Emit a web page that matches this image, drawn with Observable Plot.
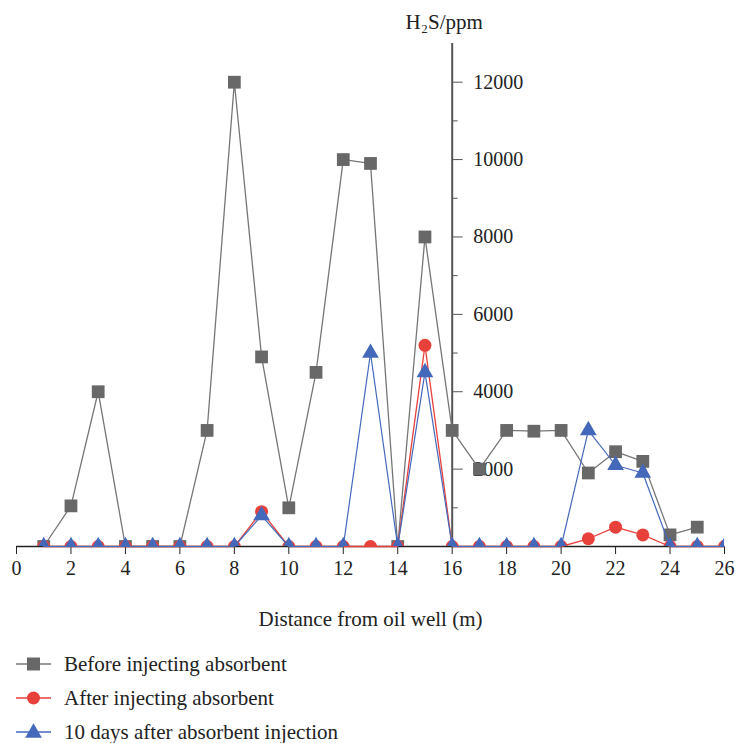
<!DOCTYPE html>
<html><head><meta charset="utf-8">
<script src="https://cdn.jsdelivr.net/npm/d3@7"></script>
<script src="https://cdn.jsdelivr.net/npm/@observablehq/plot@0.6"></script>
<style>
body{margin:0;background:#fff;font-family:"Liberation Serif","DejaVu Serif",serif;}
#legend{margin-top:7px;margin-left:16px;font-size:21px;color:#222}
.row{height:34px;display:flex;align-items:center}
.row svg{margin-right:12px}
</style></head><body>
<div id="chart"></div>
<div id="legend"></div>
<script>
const distanceBefore = [1,2,3,4,5,6,7,8,9,10,11,12,13,14,15,16,17,18,19,20,21,22,23,24,25];
const before = [0,1050,4000,0,0,0,3000,12000,4900,1000,4500,10000,9900,0,8000,3000,2000,3000,2980,3000,1900,2450,2200,300,500];
const distance = [1,2,3,4,5,6,7,8,9,10,11,12,13,14,15,16,17,18,19,20,21,22,23,24,25,26];
const after = [0,0,0,0,0,0,0,0,900,0,0,0,0,0,5200,0,0,0,0,0,200,500,300,0,0,0];
const tenDays = [0,0,0,0,0,0,0,0,800,0,0,0,5000,0,4500,0,0,0,0,0,3000,2100,1900,0,0,0];
const seriesNames = ["Before injecting absorbent","After injecting absorbent","10 days after absorbent injection"];
const xTicks = [0,2,4,6,8,10,12,14,16,18,20,22,24,26];
const yTicks = [2000,4000,6000,8000,10000,12000];
const yMinor = [1000,3000,5000,7000,9000,11000];
const yAxisAt = 16;

const gray = "#686868", grayLine = "#767676", red = "#e8413c", blue = "#4469bb";

const dBefore = distanceBefore.map((x,i)=>({x, y: before[i]}));
const dAfter = distance.map((x,i)=>({x, y: after[i]}));
const dTen = distance.map((x,i)=>({x, y: tenDays[i]}));

const plot = Plot.plot({
  width: 735, height: 640,
  marginLeft: 16, marginRight: 11, marginTop: 43, marginBottom: 94,
  style: {fontFamily: "'Liberation Serif','DejaVu Serif',serif", fontSize: "20px", color: "#222", background: "#fff"},
  x: {domain: [0, 26], axis: null},
  y: {domain: [0, 13000], axis: null},
  marks: [
    Plot.ruleY([0], {stroke: "#222", strokeWidth: 1.3}),
    Plot.ruleX([yAxisAt], {y1: 0, y2: 13000, stroke: "#555", strokeWidth: 2}),
    Plot.axisX({ticks: xTicks, tickSize: 8, tickPadding: 6, tickFormat: d => String(d), fontSize: 20, stroke: "#222", fill: "#222", label: null}),
    Plot.axisY({x: yAxisAt, anchor: "right", ticks: yTicks, tickSize: 10, tickPadding: 11, tickFormat: d => String(d), fontSize: 20, stroke: "#555", fill: "#222", label: null}),
    Plot.axisY({x: yAxisAt, anchor: "right", ticks: yMinor, tickSize: 5, tickFormat: () => "", stroke: "#555", label: null}),
    Plot.text(["H₂S/ppm"], {x: yAxisAt, frameAnchor: "top", lineAnchor: "middle", dy: -21, dx: -8, fontSize: 21, fill: "#222"}),
    Plot.text(["Distance from oil well (m)"], {frameAnchor: "bottom", lineAnchor: "middle", dy: 73, fontSize: 21, fill: "#222"}),
    Plot.line(dBefore, {x: "x", y: "y", stroke: grayLine, strokeWidth: 1.3}),
    Plot.dot(dBefore, {x: "x", y: "y", symbol: "square", r: 7.2, fill: gray, stroke: "none", clip: true}),
    Plot.line(dAfter, {x: "x", y: "y", stroke: red, strokeWidth: 1.3}),
    Plot.dot(dAfter, {x: "x", y: "y", symbol: "circle", r: 6.5, fill: red, stroke: "none", clip: true}),
    Plot.line(dTen, {x: "x", y: "y", stroke: blue, strokeWidth: 1.2}),
    Plot.dot(dTen, {x: "x", y: "y", symbol: "triangle", r: 6.2, fill: blue, stroke: "none", clip: true})
  ]
});
document.getElementById("chart").append(plot);

const legendStyles = [
  {line: grayLine, fill: gray, shape: "square"},
  {line: red, fill: red, shape: "circle"},
  {line: blue, fill: blue, shape: "triangle"}
];
const legend = d3.select("#legend");
seriesNames.forEach((name, i) => {
  const s = legendStyles[i];
  const row = legend.append("div").attr("class", "row");
  const svg = row.append("svg").attr("width", 36).attr("height", 18);
  svg.append("line").attr("x1", 0).attr("x2", 35).attr("y1", 9).attr("y2", 9).attr("stroke", s.line).attr("stroke-width", 1.3);
  const sym = {square: d3.symbolSquare, circle: d3.symbolCircle, triangle: d3.symbolTriangle}[s.shape];
  const size = {square: 13*13, circle: Math.PI*6.5*6.5, triangle: Math.PI*6.2*6.2}[s.shape];
  svg.append("path").attr("d", d3.symbol(sym, size)()).attr("transform", `translate(17.5,${s.shape==="triangle"?10:9})`).attr("fill", s.fill);
  row.append("span").text(name);
});
</script>
</body></html>
